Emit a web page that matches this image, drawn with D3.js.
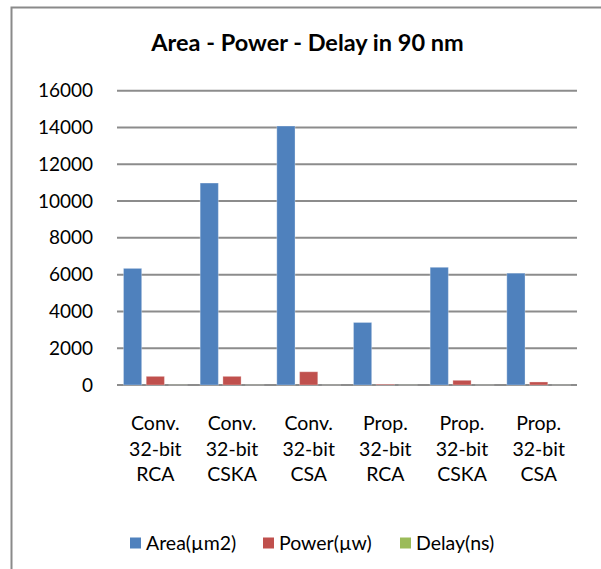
<!DOCTYPE html>
<html><head><meta charset="utf-8">
<script src="https://cdn.jsdelivr.net/npm/d3@7"></script>
<style>body{margin:0;background:#fff}svg{display:block}</style>
</head><body>
<script>
const categories = [["Conv.","32-bit","RCA"],["Conv.","32-bit","CSKA"],["Conv.","32-bit","CSA"],["Prop.","32-bit","RCA"],["Prop.","32-bit","CSKA"],["Prop.","32-bit","CSA"]];
const seriesNames = ["Area(\u00b5m2)","Power(\u00b5w)","Delay(ns)"];
const areaValues = [6340, 10980, 14080, 3400, 6400, 6080];
const powerValues = [470, 470, 720, 40, 255, 165];
const delayValues = [4.2, 3.1, 2.6, 2.9, 2.2, 1.9];
const yTicks = [0,2000,4000,6000,8000,10000,12000,14000,16000];
const colors = ["#4F81BD","#C0504D","#9BBB59"];
const title = "Area - Power - Delay in 90 nm";

const W=601,H=569;
const svg=d3.select("body").append("svg").attr("width",W).attr("height",H);
const font="Lato, 'Open Sans', sans-serif";
// frame
svg.append("rect").attr("x",11.5).attr("y",7.5).attr("width",W+20).attr("height",H+20)
  .attr("fill","#fff").attr("stroke","#8a8a8a").attr("stroke-width",2);

const x0=117,x1=577,yTop=90.7,yBot=385;
const y=d3.scaleLinear().domain([0,16000]).range([yBot,yTop]);
const xb=d3.scaleBand().domain(d3.range(categories.length)).range([x0,x1]).padding(0);
const xs=d3.scaleBand().domain(d3.range(3)).range([0,xb.bandwidth()]).paddingInner(0.2).paddingOuter(0.285);

svg.append("text").attr("x",307.5).attr("y",51).attr("text-anchor","middle")
  .attr("font-family",font).attr("font-weight","bold").attr("font-size",23.5).attr("fill","#000").text(title);

// grid
svg.append("g").selectAll("line").data(yTicks).join("line")
  .attr("x1",x0).attr("x2",x1).attr("y1",d=>y(d)).attr("y2",d=>y(d))
  .attr("stroke","#8c8c8c").attr("stroke-width",2);
// y labels
const yAxis=d3.axisLeft(y).tickValues(yTicks).tickSize(0).tickPadding(0).tickFormat(d3.format("d"));
const ya=svg.append("g").attr("transform",`translate(${93},0)`).call(yAxis);
ya.select(".domain").remove();
ya.selectAll("text").attr("font-family",font).attr("font-size",19).attr("fill","#000");

const series=[areaValues,powerValues,delayValues];
series.forEach((vals,si)=>{
  svg.append("g").selectAll("rect").data(vals).join("rect")
    .attr("x",(d,i)=>xb(i)+xs(si)).attr("width",xs.bandwidth())
    .attr("y",d=>y(d)).attr("height",d=>yBot-y(d))
    .attr("fill",colors[si])
    .attr("stroke","#fff").attr("stroke-opacity",0.3).attr("stroke-width",1);
});

// category labels
categories.forEach((lines,i)=>{
  const t=svg.append("text").attr("text-anchor","middle").attr("font-family",font).attr("font-size",19.5).attr("fill","#000");
  lines.forEach((l,j)=>t.append("tspan").attr("x",xb(i)+xb.bandwidth()/2).attr("y",430+j*25.5).text(l));
});

// legend
const legX=[130,263,400];
seriesNames.forEach((n,i)=>{
  svg.append("rect").attr("x",legX[i]).attr("y",537.5).attr("width",11).attr("height",11).attr("fill",colors[i]);
  svg.append("text").attr("x",legX[i]+16).attr("y",550).attr("font-family",font).attr("font-size",19.5).attr("fill","#000").text(n);
});
</script>
</body></html>
